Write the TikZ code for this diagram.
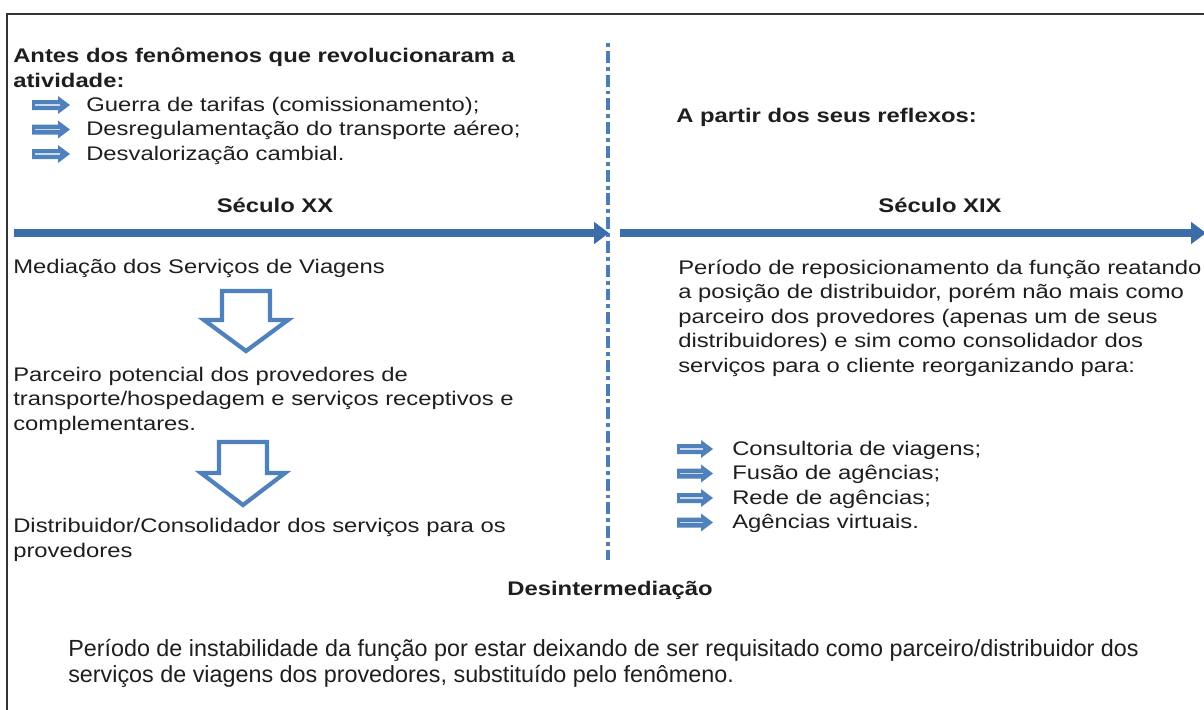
\documentclass[tikz,border=0pt]{standalone}
\usepackage{fontspec}
\setmainfont{Liberation Sans}[FakeStretch=1.21]
\newfontfamily\plainfont{Liberation Sans}
\newcommand{\bodysize}{\fontsize{14}{17.4}\selectfont}
\usetikzlibrary{arrows.meta, positioning}
\definecolor{lineblue}{HTML}{3D6DA8}
\definecolor{dashblue}{HTML}{4A7EBB}
\definecolor{bulblue}{HTML}{4F81BD}
\definecolor{txtgray}{HTML}{1E1E1E}
\tikzset{
    txt/.style={anchor=base west, inner sep=0pt, align=left, text=txtgray, font=\bodysize},
    head/.style={anchor=base, inner sep=0pt, text=txtgray, font=\bodysize\bfseries},
    timeline/.style={lineblue, line width=5.7pt, -{Triangle[length=10.5pt, width=15pt]}},
    divider/.style={dashblue, line width=2.8pt, dash pattern=on 2.8pt off 2.8pt on 8.5pt off 2.8pt},
    hollow/.style={bulblue, line width=3pt, line join=miter},
    bul/.style={fill=bulblue}
}
\begin{document}
\begin{tikzpicture}[x=0.025cm, y=-0.025cm]
    \useasboundingbox (0,0) rectangle (1204,710);
    % frame
    \draw[black!80, line width=1.4pt] (7,710) -- (7,14) -- (1204,14);
    % divider
    \coordinate (divtop) at (608,43);
    \coordinate (divbot) at (608,560);
    \draw[divider] (divtop) -- (divbot);
    % before (base = last line)
    \node[txt, font=\bodysize\bfseries] (antes) at (13,87) {Antes dos fenômenos que revolucionaram a\\atividade:};
    \foreach \t [count=\i, evaluate=\i as \y using 86.5+24.5*\i] in {Guerra de tarifas (comissionamento);, Desregulamentação do transporte aéreo;, Desvalorização cambial.} {
        \node[txt] (antes\i) at (86,\y) {\t};
        \fill[bul] (32,\y-11) -- ++(26,0) -- ++(0,-4) -- ++(12,9) -- ++(-12,9) -- ++(0,-4) -- ++(-26,0) -- cycle;
        \draw[white, opacity=0.7, line width=1pt] (35,\y-6) -- (60,\y-6);
    }
    % after
    \node[txt, font=\bodysize\bfseries] (apartir) at (676,122) {A partir dos seus reflexos:};
    % timelines
    \node[head] (sec20) at (275,212) {Século XX};
    \node[head] (sec19) at (940,212) {Século XIX};
    \coordinate (t20a) at (14,233);
    \coordinate (t20b) at (609,233);
    \coordinate (t19a) at (620,233);
    \coordinate (t19b) at (1206,233);
    \draw[timeline] (t20a) -- (t20b);
    \draw[timeline] (t19a) -- (t19b);
    % left column
    \node[txt] (mediacao) at (13,273) {Mediação dos Serviços de Viagens};
    \node[txt] (parceiro) at (13,430) {Parceiro potencial dos provedores de\\transporte/hospedagem e serviços receptivos e\\complementares.};
    \node[txt] (distrib) at (13,557) {Distribuidor/Consolidador dos serviços para os\\provedores};
    \foreach \cx/\ty/\hy/\by in {246/291/320/351, 243/442/473/505} {
        \draw[hollow] (\cx-24,\ty) -- (\cx+24,\ty) -- (\cx+24,\hy) -- (\cx+42,\hy) -- (\cx,\by) -- (\cx-42,\hy) -- (\cx-24,\hy) -- cycle;
    }
    % right column
    \node[txt] (periodo) at (678,372) {Período de reposicionamento da função reatando\\a posição de distribuidor, porém não mais como\\parceiro dos provedores (apenas um de seus\\distribuidores) e sim como consolidador dos\\serviços para o cliente reorganizando para:};
    \foreach \t [count=\i, evaluate=\i as \y using 430.5+24.5*\i] in {Consultoria de viagens;, Fusão de agências;, Rede de agências;, Agências virtuais.} {
        \node[txt] (reorg\i) at (732,\y) {\t};
        \fill[bul] (677,\y-11) -- ++(24,0) -- ++(0,-4) -- ++(12,9) -- ++(-12,9) -- ++(0,-4) -- ++(-24,0) -- cycle;
        \draw[white, opacity=0.7, line width=1pt] (680,\y-6) -- (703,\y-6);
    }
    % bottom
    \node[head] (desinter) at (610,595) {Desintermediação};
    \node[txt, font=\fontsize{16.6}{17.8}\plainfont] (instab) at (68,682) {Período de instabilidade da função por estar deixando de ser requisitado como parceiro/distribuidor dos\\serviços de viagens dos provedores, substituído pelo fenômeno.};
\end{tikzpicture}
\end{document}
